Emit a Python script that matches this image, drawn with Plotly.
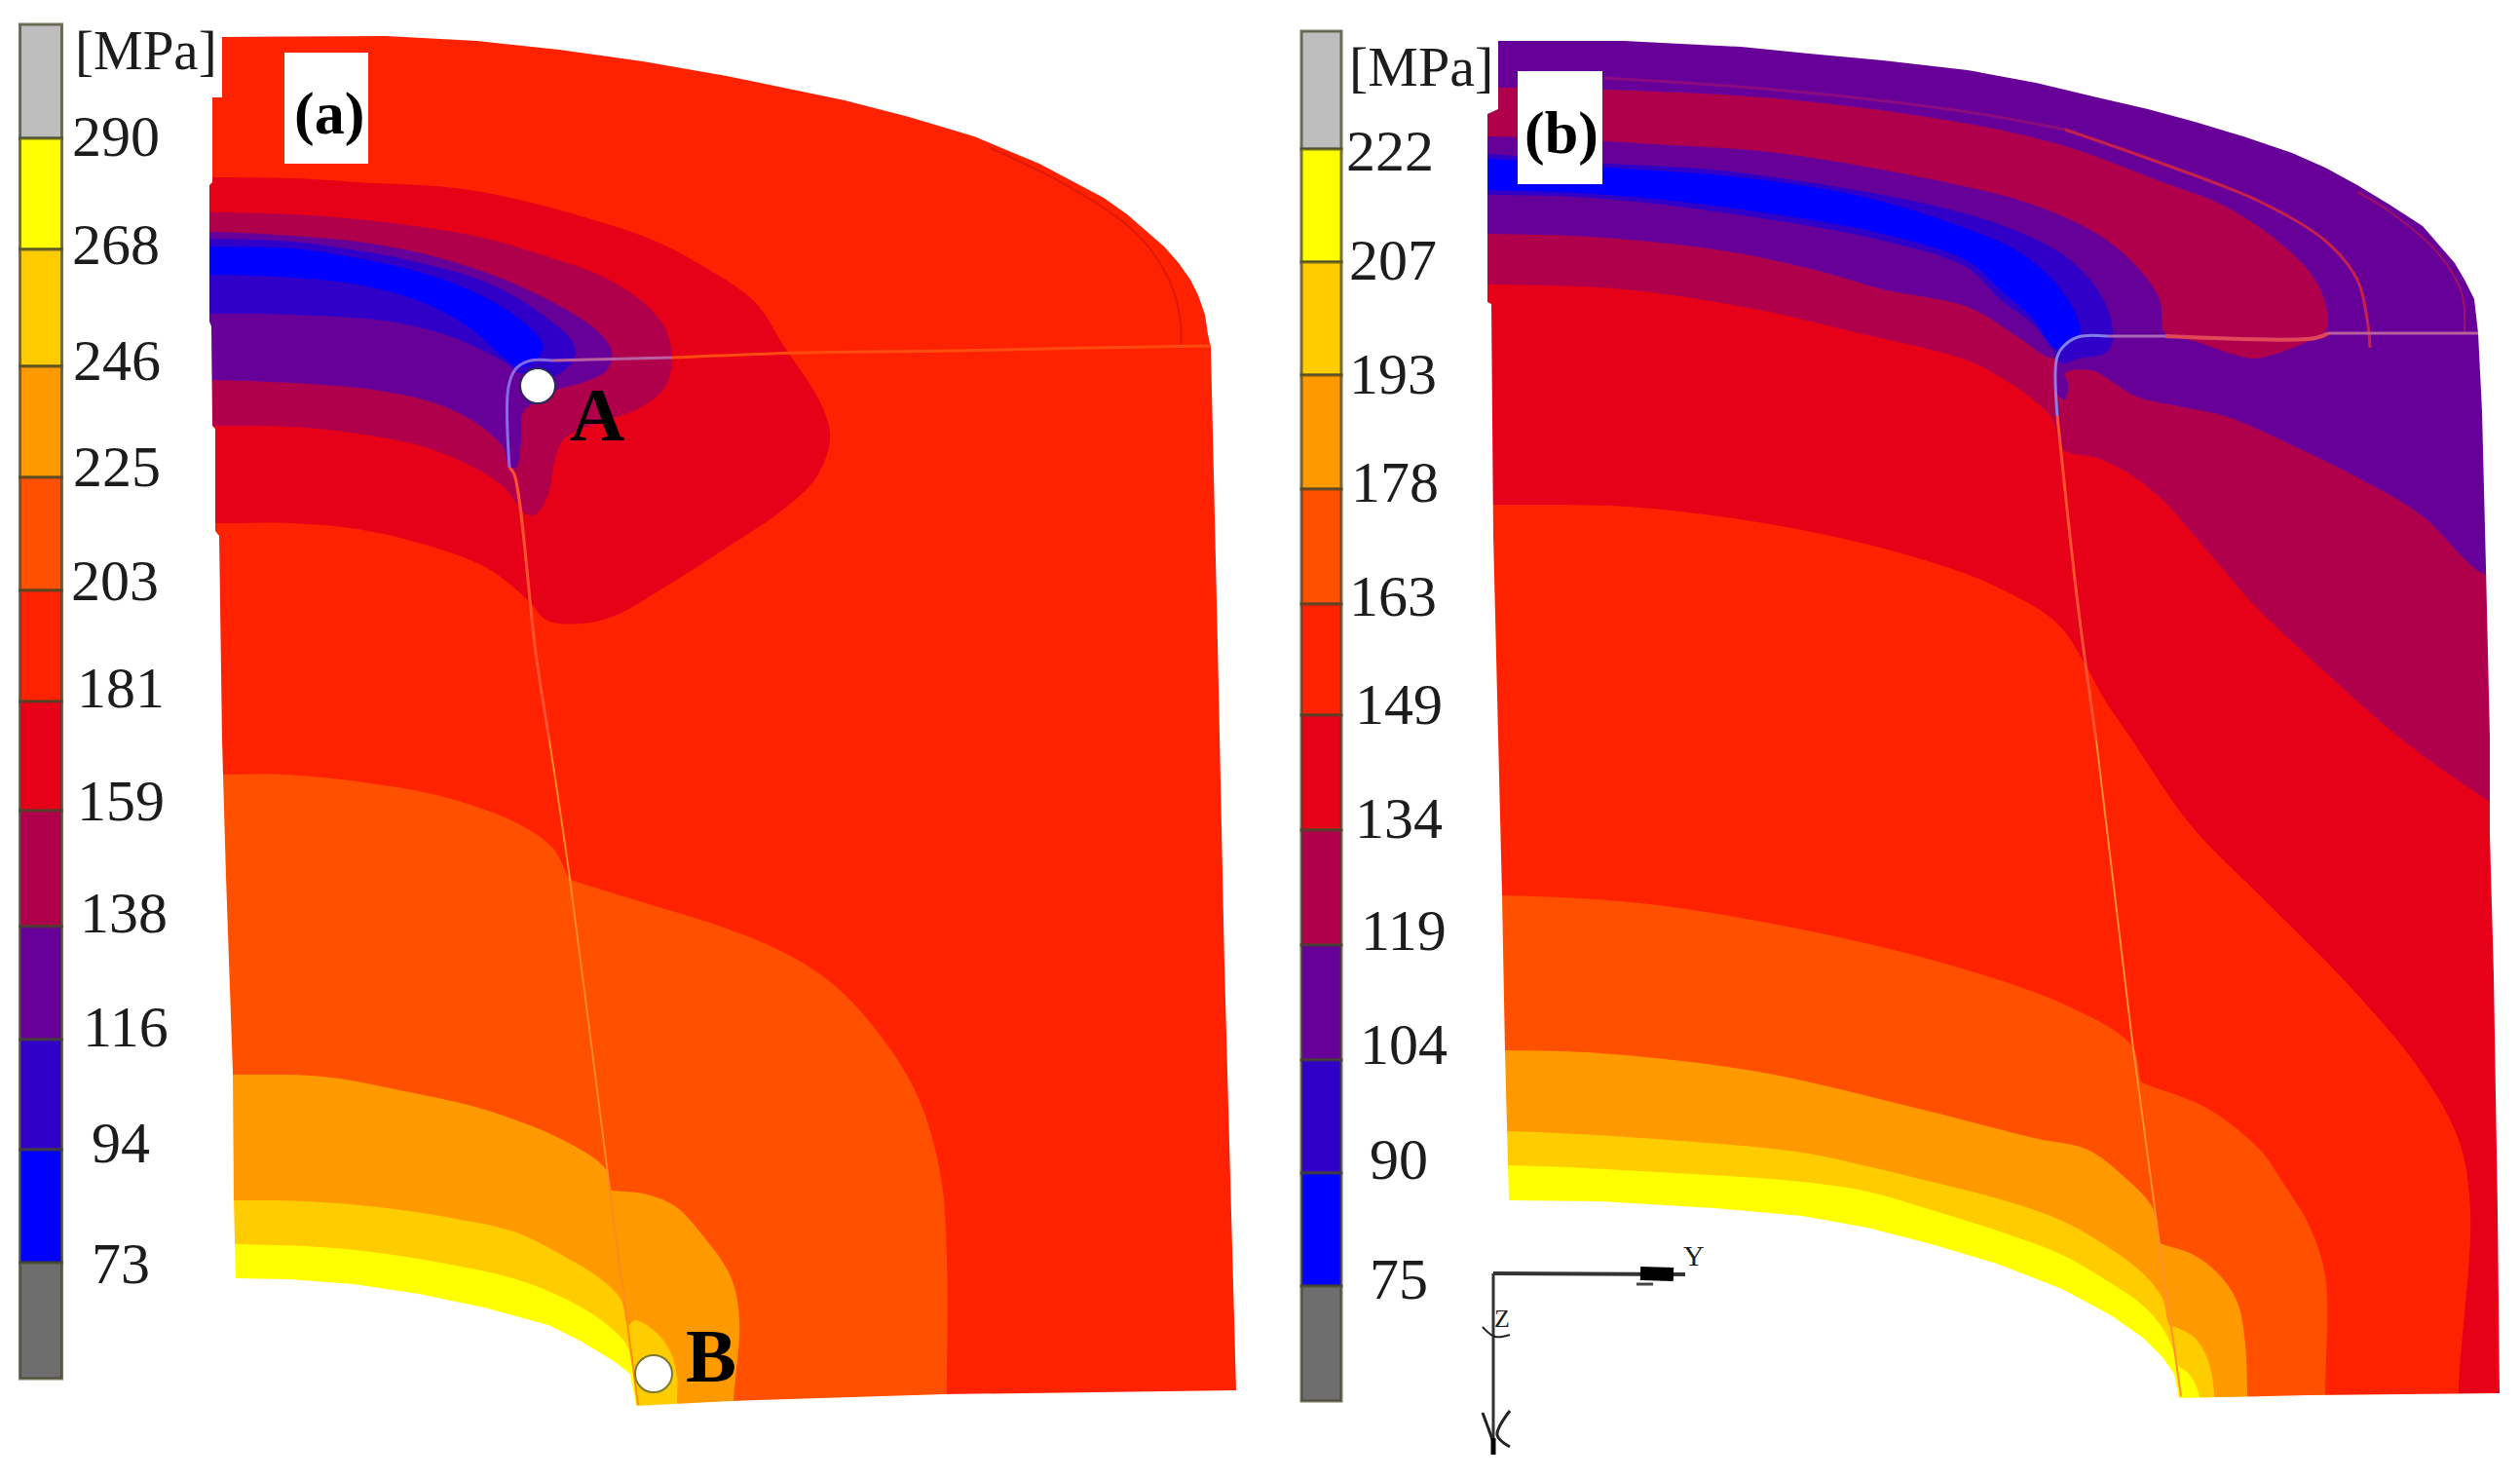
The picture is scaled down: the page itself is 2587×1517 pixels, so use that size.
import plotly.graph_objects as go

WIDTH = 2587
HEIGHT = 1517

# level colours, top of the legend first
LEVEL_COLORS = ['#bdbdbd', '#ffff00', '#ffcc00', '#ff9900', '#ff5000', '#ff2200',
                '#e60018', '#b0004c', '#660099', '#3000c8', '#0000ff', '#6e6e6e']

# legends
A_TICKS = ['290', '268', '246', '225', '203', '181', '159', '138', '116', '94', '73']
B_TICKS = ['222', '207', '193', '178', '163', '149', '134', '119', '104', '90', '75']
A_LEVEL_EDGES = [25, 142, 256, 376, 490, 606, 720, 832, 951, 1067, 1180, 1296, 1415]
B_LEVEL_EDGES = [32, 153, 269, 385, 502, 620, 734, 852, 970, 1088, 1204, 1320, 1438]
A_TICK_X = [119, 119, 120, 120, 118, 124, 124, 127, 129, 124, 124]
A_TICK_Y = [140, 251, 370, 479, 596, 706, 822, 937, 1054, 1173, 1297]
B_TICK_X = [1427, 1430, 1430, 1432, 1430, 1436, 1436, 1441, 1441, 1436, 1436]
B_TICK_Y = [155, 267, 384, 495, 612, 723, 840, 955, 1072, 1190, 1313]

# panel (a) outline, clockwise, hole included
A_OUTLINE = [(228, 38), (396, 37), (490, 42), (574, 51), (660, 63), (746, 78), (820, 93), (867, 103),
             (933, 120), (1000, 140), (1067, 168), (1133, 203), (1157, 220), (1177, 237), (1195, 253),
             (1210, 270), (1222, 287), (1230, 303), (1237, 323), (1240, 343), (1243, 357), (1250, 660),
             (1257, 990), (1269, 1427),
             (970, 1431), (750, 1438), (653, 1443), (647, 1410), (630, 1397), (597, 1377), (563, 1360),
             (497, 1342), (430, 1328), (363, 1318), (297, 1313), (242, 1312), (240, 1232), (239, 1100),
             (232, 900), (228, 760), (225, 550), (221, 545), (221, 440), (218, 437),
             (217, 335), (215, 330), (215, 190), (218, 187), (218, 100), (228, 100)]

# panel (a) contour bands
A_RED = [(150, 0), (1300, 0), (1300, 1500), (150, 1500)]
A_CRIMSON = [(150, 182), (218, 182), (300, 183), (367, 187), (467, 193), (533, 205), (600, 223),
             (667, 245), (718, 271), (775, 310), (804, 354), (844, 417), (852, 451), (838, 490),
             (804, 523), (746, 562), (677, 606), (631, 632), (597, 640), (562, 637), (542, 616),
             (500, 583), (433, 558), (367, 543), (300, 537), (223, 537), (150, 537)]
A_MAGENTA = [(150, 218), (217, 218), (300, 220), (367, 225), (433, 233), (500, 245), (567, 265),
             (617, 283), (660, 310), (683, 337), (690, 367), (683, 397), (660, 417), (633, 428),
             (593, 442), (577, 453), (568, 480), (563, 507), (550, 528), (540, 528), (533, 520),
             (517, 500), (483, 478), (433, 458), (367, 445), (300, 438), (217, 437), (150, 437)]
A_PURPLE = [(150, 238), (217, 238), (300, 242), (367, 248), (433, 260), (500, 280), (567, 310),
            (610, 337), (628, 360), (623, 380), (600, 392), (572, 400), (550, 413), (537, 423),
            (535, 453), (530, 480), (523, 480), (517, 460), (493, 437), (450, 415), (383, 400),
            (300, 393), (217, 390), (150, 390)]
A_INDIGO = [(150, 245), (217, 245), (300, 248), (367, 257), (433, 270), (500, 290), (550, 318),
            (587, 350), (590, 367), (567, 387), (533, 383), (520, 373), (467, 347), (400, 330),
            (300, 323), (217, 322), (150, 322)]
A_BLUE = [(150, 253), (217, 253), (300, 255), (367, 265), (433, 280), (483, 298), (533, 327),
          (557, 353), (553, 367), (533, 377), (517, 367), (483, 337), (433, 310), (367, 292),
          (300, 285), (217, 282), (150, 282)]
A_ORANGE = [(150, 795), (230, 795), (290, 795), (373, 803), (456, 818), (531, 845), (568, 871),
            (585, 902), (589, 904), (663, 927), (746, 953), (813, 982), (862, 1016), (912, 1074),
            (945, 1132), (966, 1209), (972, 1291), (972, 1431), (972, 1500), (150, 1500)]
A_AMBER = [(150, 1103), (239, 1103), (332, 1105), (415, 1120), (498, 1139), (580, 1171), (622, 1200),
           (627, 1221), (629, 1222), (660, 1225), (693, 1238), (723, 1270), (750, 1310), (759, 1354),
           (753, 1438), (750, 1500), (150, 1500)]
A_GOLD = [(150, 1232), (240, 1232), (313, 1233), (397, 1240), (463, 1250), (530, 1265), (580, 1290),
          (613, 1310), (637, 1333), (645, 1360), (652, 1355), (673, 1367), (688, 1387), (695, 1413),
          (695, 1437), (695, 1500), (150, 1500)]
A_YELLOW = [(150, 1277), (242, 1277), (330, 1280), (397, 1287), (463, 1298), (530, 1313), (580, 1333),
            (620, 1357), (643, 1380), (649, 1403), (655, 1445), (660, 1500), (150, 1500)]

# panel (a) part outline and the two marked points
A_EDGE_TOP = [(1243, 355), (1120, 357), (980, 360), (825, 362), (690, 367)]
A_EDGE_TOP_DARK = [(690, 367), (567, 370)]
A_EDGE_CORNER = [(567, 370), (545, 370), (530, 378), (522, 397), (523, 480)]
A_EDGE_RED = [(523, 480), (528, 487), (550, 670), (564, 760)]
A_EDGE_ORANGE = [(564, 760), (585, 902), (626, 1221), (655, 1442)]
A_RIM = [(1017, 152), (1100, 193), (1167, 240), (1200, 287), (1212, 330), (1212, 353)]
A_POINT_X = [552, 671]
A_POINT_Y = [396, 1410]
A_POINT_SIZE = [36, 38]
A_POINT_RIM = ['#28285a', '#7a7a30']

# panel (b) outline
B_OUTLINE = [(1538, 42), (1667, 42), (1733, 45), (1787, 48), (1857, 55), (1933, 62), (2020, 72),
             (2090, 85), (2153, 100), (2205, 112), (2253, 125), (2303, 140), (2353, 157), (2387, 172),
             (2420, 190), (2453, 210), (2487, 232), (2503, 250), (2520, 270), (2530, 287), (2540, 307),
             (2544, 342), (2548, 422), (2552, 582), (2556, 756),
             (2556, 857), (2560, 1001), (2564, 1243), (2566, 1430), (2370, 1432), (2237, 1435),
             (2232, 1410), (2220, 1393), (2200, 1373), (2167, 1350), (2117, 1323), (2050, 1297),
             (1983, 1277), (1917, 1260), (1850, 1248), (1760, 1240), (1643, 1233), (1549, 1232),
             (1545, 1079), (1542, 919), (1538, 756), (1533, 550), (1531, 312), (1527, 310),
             (1527, 117), (1538, 112)]

# panel (b) contour bands
B_PURPLE = [(1450, 0), (2587, 0), (2587, 1500), (1450, 1500)]
B_MAGENTA_TOP = [(1450, 90), (1533, 90), (1647, 92), (1833, 102), (2020, 127), (2120, 150), (2220, 187),
                 (2287, 213), (2353, 260), (2380, 293), (2390, 327), (2387, 340), (2370, 350),
                 (2337, 363), (2313, 368), (2287, 362), (2253, 350), (2223, 342), (2217, 307),
                 (2193, 273), (2153, 240), (2087, 210), (2020, 192), (1833, 158), (1700, 148),
                 (1533, 140), (1450, 140)]
B_INDIGO = [(1450, 158), (1527, 158), (1633, 167), (1767, 175), (1933, 200), (2020, 220), (2070, 237),
            (2120, 263), (2153, 297), (2167, 327), (2168, 353), (2160, 363), (2133, 368), (2117, 373),
            (2110, 363), (2087, 333), (2053, 307), (2020, 275), (1933, 247), (1767, 218), (1633, 203),
            (1527, 200), (1450, 200)]
B_BLUE = [(1450, 163), (1527, 163), (1650, 172), (1767, 180), (1867, 193), (1933, 207), (2020, 235),
          (2070, 257), (2107, 287), (2130, 320), (2135, 342), (2125, 350), (2110, 357), (2087, 327),
          (2053, 297), (2020, 268), (1933, 240), (1867, 227), (1767, 212), (1650, 200), (1527, 195),
          (1450, 195)]
B_MAGENTA = [(1450, 238), (1533, 240), (1633, 243), (1767, 257), (1867, 278), (1933, 297), (2020, 315),
             (2070, 345), (2103, 367), (2110, 368), (2112, 405), (2120, 410), (2123, 393), (2120, 383),
             (2147, 380), (2170, 393), (2193, 407), (2237, 417), (2287, 428), (2353, 457), (2420, 490),
             (2487, 530), (2540, 583), (2587, 615), (2587, 1500), (1450, 1500)]
B_CRIMSON = [(1450, 292), (1533, 292), (1667, 297), (1800, 317), (1900, 340), (2020, 370), (2053, 387),
             (2087, 410), (2107, 430), (2113, 450), (2120, 463), (2153, 470), (2187, 487), (2220, 513),
             (2253, 550), (2287, 590), (2313, 620), (2385, 688), (2467, 760), (2548, 818), (2587, 845),
             (2587, 1500), (1450, 1500)]
B_RED = [(1450, 518), (1534, 518), (1684, 521), (1845, 543), (1966, 572), (2047, 601), (2112, 640),
         (2144, 688), (2160, 717), (2189, 760), (2249, 847), (2330, 929), (2411, 1011), (2484, 1098),
         (2524, 1170), (2536, 1243), (2524, 1426), (2524, 1500), (1450, 1500)]
B_ORANGE = [(1450, 919), (1542, 919), (1684, 927), (1845, 953), (2007, 992), (2128, 1035), (2189, 1074),
            (2198, 1110), (2201, 1112), (2265, 1137), (2320, 1180), (2343, 1213), (2370, 1257),
            (2387, 1310), (2387, 1431), (2387, 1500), (1450, 1500)]
B_AMBER = [(1450, 1078), (1545, 1078), (1643, 1081), (1805, 1100), (1966, 1137), (2088, 1168), (2143, 1180),
           (2183, 1210), (2210, 1240), (2217, 1275), (2220, 1277), (2250, 1287), (2277, 1307), (2297, 1337),
           (2305, 1380), (2307, 1430), (2307, 1500), (1450, 1500)]
B_GOLD = [(1450, 1161), (1546, 1161), (1684, 1168), (1850, 1183), (1917, 1197), (1983, 1213), (2050, 1230),
          (2117, 1253), (2167, 1282), (2200, 1307), (2220, 1333), (2227, 1360), (2233, 1362), (2253, 1373),
          (2267, 1397), (2273, 1430), (2273, 1500), (1450, 1500)]
B_YELLOW = [(1450, 1196), (1548, 1196), (1684, 1202), (1850, 1213), (1917, 1223), (1983, 1242), (2050, 1263),
            (2117, 1288), (2167, 1317), (2200, 1340), (2220, 1363), (2230, 1383), (2237, 1402), (2247, 1410),
            (2257, 1430), (2257, 1500), (1450, 1500)]

# thin stripes and part outline of panel (b)
B_STRIPE_FAINT = [(1647, 80), (1833, 93), (2020, 115), (2120, 133)]
B_STRIPE_INNER = [(2120, 133), (2220, 168), (2320, 207), (2387, 247), (2420, 287), (2430, 327), (2433, 357)]
B_STRIPE_OUTER = [(2420, 197), (2453, 217), (2503, 260), (2527, 300), (2530, 342)]
B_EDGE_RIGHT = [(2544, 342), (2390, 342)]
B_EDGE_MID = [(2390, 342), (2377, 347), (2223, 345)]
B_EDGE_LEFT = [(2223, 345), (2163, 345)]
B_EDGE_CORNER = [(2163, 345), (2133, 346), (2117, 357), (2111, 370), (2112, 427)]
B_EDGE_RED = [(2112, 427), (2133, 620), (2152, 760)]
B_EDGE_ORANGE = [(2152, 760), (2189, 1069), (2217, 1277), (2239, 1433)]

# axis triad
TRIAD_Y = [(1533, 1307), (1730, 1308)]
TRIAD_Y_HEAD = [(1684, 1307), (1718, 1308)]
TRIAD_Y_TICK = [(1680, 1318), (1697, 1318)]
TRIAD_Z = [(1533, 1307), (1533, 1480)]
TRIAD_Z_TICK = [(1522, 1362), (1535, 1372), (1550, 1370)]
TRIAD_X_TICK_L = [(1522, 1450), (1533, 1480)]
TRIAD_X_TICK_R = [(1550, 1448), (1537, 1473), (1550, 1485)]
TRIAD_X_HEAD = [(1533, 1476), (1533, 1493)]

# white label boxes
A_BOX = [(292, 54), (378, 54), (378, 168), (292, 168)]
B_BOX = [(1558, 73), (1645, 73), (1645, 189), (1558, 189)]

fig = go.Figure()


def add_band(points, color, shape='spline'):
    fig.add_trace(go.Scatter(
        x=[p[0] for p in points], y=[p[1] for p in points],
        mode='lines', fill='toself', fillcolor=color,
        line=dict(width=0, shape=shape, smoothing=1.0),
        hoverinfo='skip'
    ))


def add_line(points, color, width=3):
    fig.add_trace(go.Scatter(
        x=[p[0] for p in points], y=[p[1] for p in points],
        mode='lines', line=dict(color=color, width=width, shape='spline', smoothing=1.0),
        hoverinfo='skip'
    ))


def add_mask(outline, left, right):
    # white sheet with the part outline cut out, trims every band to the part
    start = outline[0]
    frame = [(left, 0), (left, HEIGHT), (right, HEIGHT), (right, 0), (left, 0)]
    add_band(frame + [start] + outline[1:] + [start, (left, 0)], 'white', shape='linear')


def add_legend(edges, x, width):
    fig.add_trace(go.Bar(
        x=[x] * (len(edges) - 1),
        y=[b - a for a, b in zip(edges[:-1], edges[1:])],
        base=edges[:-1],
        width=width,
        marker=dict(color=LEVEL_COLORS, line=dict(color='rgba(70,70,40,0.75)', width=3)),
        hoverinfo='skip'
    ))


def add_text(x, y, text, size, bold=False, color='#1c1c1c'):
    fig.add_annotation(
        x=x, y=y, text=f'<b>{text}</b>' if bold else text, showarrow=False,
        xanchor='center', yanchor='middle',
        font=dict(family='Liberation Serif', size=size, color=color)
    )


# panel (a)
add_legend(A_LEVEL_EDGES, 42, 43)
add_band(A_RED, LEVEL_COLORS[5], shape='linear')
add_band(A_ORANGE, LEVEL_COLORS[4])
add_band(A_AMBER, LEVEL_COLORS[3])
add_band(A_GOLD, LEVEL_COLORS[2])
add_band(A_YELLOW, LEVEL_COLORS[1])
add_band(A_CRIMSON, LEVEL_COLORS[6])
add_band(A_MAGENTA, LEVEL_COLORS[7])
add_band(A_PURPLE, LEVEL_COLORS[8])
add_band(A_INDIGO, LEVEL_COLORS[9])
add_band(A_BLUE, LEVEL_COLORS[10])
add_mask(A_OUTLINE, 66, 1300)
add_line(A_RIM, '#e01808', 2)
add_line(A_EDGE_TOP, '#ff4c10')
add_line(A_EDGE_TOP_DARK, '#b860a0')
add_line(A_EDGE_CORNER, '#8a6ae0')
add_line(A_EDGE_RED, '#ff5030')
add_line(A_EDGE_ORANGE, '#ff8a20', 2)
add_band(A_BOX, 'white', shape='linear')
fig.add_trace(go.Scatter(
    x=A_POINT_X, y=A_POINT_Y, mode='markers',
    marker=dict(size=A_POINT_SIZE, color='white', opacity=1, line=dict(color=A_POINT_RIM, width=2)),
    hoverinfo='skip'
))

# panel (b)
add_legend(B_LEVEL_EDGES, 1356.5, 41)
add_band(B_PURPLE, LEVEL_COLORS[8], shape='linear')
add_band(B_MAGENTA_TOP, LEVEL_COLORS[7])
add_band(B_INDIGO, LEVEL_COLORS[9])
add_band(B_BLUE, LEVEL_COLORS[10])
add_band(B_MAGENTA, LEVEL_COLORS[7])
add_band(B_CRIMSON, LEVEL_COLORS[6])
add_band(B_RED, LEVEL_COLORS[5])
add_band(B_ORANGE, LEVEL_COLORS[4])
add_band(B_AMBER, LEVEL_COLORS[3])
add_band(B_GOLD, LEVEL_COLORS[2])
add_band(B_YELLOW, LEVEL_COLORS[1])
add_line(B_STRIPE_FAINT, '#8c0c80', 3)
add_line(B_STRIPE_INNER, '#c8204c', 3)
add_line(B_STRIPE_OUTER, '#a01068', 2)
add_mask(B_OUTLINE, 1385, WIDTH)
add_line(B_EDGE_RIGHT, '#b860a0')
add_line(B_EDGE_MID, '#e04858', 4)
add_line(B_EDGE_LEFT, '#a868b8')
add_line(B_EDGE_CORNER, '#8080e8')
add_line(B_EDGE_RED, '#ff5030')
add_line(B_EDGE_ORANGE, '#ff9030', 2)
add_band(B_BOX, 'white', shape='linear')

# axis triad
add_line(TRIAD_Y, '#333333', 4)
add_line(TRIAD_Y_HEAD, '#000000', 14)
add_line(TRIAD_Y_TICK, '#444444', 3)
add_line(TRIAD_Z, '#333333', 3)
add_line(TRIAD_Z_TICK, '#222222', 2)
add_line(TRIAD_X_TICK_L, '#222222', 3)
add_line(TRIAD_X_TICK_R, '#222222', 3)
add_line(TRIAD_X_HEAD, '#000000', 5)

# texts
for x, y, label in zip(A_TICK_X, A_TICK_Y, A_TICKS):
    add_text(x, y, label, 60)
for x, y, label in zip(B_TICK_X, B_TICK_Y, B_TICKS):
    add_text(x, y, label, 60)
add_text(150, 51, '[MPa]', 57)
add_text(1459, 68, '[MPa]', 58)
add_text(338, 116, '(a)', 62, bold=True, color='#000000')
add_text(1603, 136, '(b)', 62, bold=True, color='#000000')
add_text(613, 425, 'A', 78, bold=True, color='#000000')
add_text(730, 1391, 'B', 78, bold=True, color='#000000')
add_text(1739, 1288, 'Y', 30)
add_text(1542, 1353, 'Z', 26)

fig.update_xaxes(range=[0, WIDTH], visible=False, fixedrange=True)
fig.update_yaxes(range=[HEIGHT, 0], visible=False, fixedrange=True)
fig.update_layout(
    width=WIDTH, height=HEIGHT,
    margin=dict(l=0, r=0, t=0, b=0),
    paper_bgcolor='white', plot_bgcolor='white',
    showlegend=False, barmode='overlay'
)

fig.write_html("out.html", config={'displayModeBar': False},
               post_script="document.body.style.margin='0';")
